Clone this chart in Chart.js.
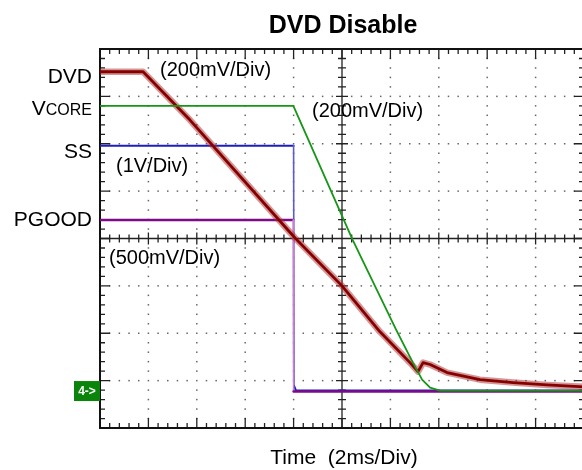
<!DOCTYPE html>
<html>
<head>
<meta charset="utf-8">
<script src="https://cdn.jsdelivr.net/npm/chart.js@4.4.1/dist/chart.umd.min.js"></script>
<style>
  html, body { margin: 0; padding: 0; background: #fff; overflow: hidden; }
  #wrap { position: relative; width: 590px; height: 470px; }
</style>
</head>
<body>
<div id="wrap"><canvas id="scope"></canvas></div>
<script>
// Time in ms (2 ms per division, 10 divisions), level in screen divisions (0..8)
const dvdTime   = [0, 1.78, 3.72, 8.06, 10.0, 11.57, 12.81, 13.14, 13.35, 13.64, 14.34, 15.70, 17.07, 18.47, 20];
const dvdLevel  = [7.52, 7.52, 6.50, 4.01, 3.00, 2.03, 1.38, 1.19, 1.38, 1.34, 1.17, 1.02, 0.96, 0.91, 0.87];
const vcoreTime  = [0, 7.99, 10.44, 12.23, 12.93, 13.31, 13.64, 14.05, 20];
const vcoreLevel = [6.80, 6.80, 3.97, 2.08, 1.38, 1.02, 0.85, 0.79, 0.79];
const ssTime  = [0, 8.0, 8.02, 8.1, 20];
const ssLevel = [5.96, 5.96, 0.89, 0.79, 0.79];
const pgoodTime  = [0, 7.98, 8.0, 20];
const pgoodLevel = [4.39, 4.39, 0.77, 0.77];
const ch4Ground = 0.78;

const xMajor = [0, 2, 4, 6, 8, 10, 12, 14, 16, 18, 20];
const yMajor = [0, 1, 2, 3, 4, 5, 6, 7, 8];

const pts = (xs, ys) => xs.map((x, i) => ({ x, y: ys[i] }));
const FONT = '"Liberation Sans", Arial, sans-serif';

// Oscilloscope graticule: dotted grid, centre cross and framed border with ticks
const graticule = {
  id: 'graticule',
  beforeDatasetsDraw(chart) {
    const { ctx, chartArea: a, scales: { x, y } } = chart;
    const xs = [], ys = [];
    for (let i = 0; i <= 50; i++) xs.push(x.getPixelForValue(i * 0.4));
    for (let j = 0; j <= 40; j++) ys.push(y.getPixelForValue(j * 0.2));
    ctx.save();
    ctx.fillStyle = '#666';
    // dotted vertical grid lines
    xMajor.forEach(v => {
      if (v === 0 || v === 20 || v === 10) return;
      const px = x.getPixelForValue(v);
      ys.forEach((py, j) => { if (j > 0 && j < 40 && j % 5 !== 0) ctx.fillRect(px - 0.75, py - 0.75, 1.5, 1.5); });
    });
    // dotted horizontal grid lines
    yMajor.forEach(v => {
      if (v === 0 || v === 8 || v === 4) return;
      const py = y.getPixelForValue(v);
      xs.forEach((px, i) => { if (i > 0 && i < 50) ctx.fillRect(px - 0.75, py - 0.75, 1.5, 1.5); });
    });
    // centre cross with minor ticks
    ctx.strokeStyle = '#222';
    ctx.lineWidth = 1.3;
    const cx = x.getPixelForValue(10), cy = y.getPixelForValue(4);
    ctx.beginPath();
    ctx.moveTo(a.left, cy); ctx.lineTo(a.right, cy);
    ctx.moveTo(cx, a.top); ctx.lineTo(cx, a.bottom);
    xs.forEach((px, i) => { const L = i % 5 === 0 ? 6 : 4; ctx.moveTo(px, cy - L); ctx.lineTo(px, cy + L); });
    ys.forEach((py, j) => { const L = j % 5 === 0 ? 6 : 4; ctx.moveTo(cx - L, py); ctx.lineTo(cx + L, py); });
    ctx.stroke();
    // border ticks
    ctx.beginPath();
    ctx.lineWidth = 1.3;
    xs.forEach((px, i) => {
      const L = i % 5 === 0 ? 10 : 5;
      ctx.moveTo(px, a.top); ctx.lineTo(px, a.top + L);
      ctx.moveTo(px, a.bottom); ctx.lineTo(px, a.bottom - L);
    });
    ys.forEach((py, j) => {
      const L = j % 5 === 0 ? 10 : 5;
      ctx.moveTo(a.left, py); ctx.lineTo(a.left + L, py);
      ctx.moveTo(a.right, py); ctx.lineTo(a.right - L, py);
    });
    ctx.stroke();
    ctx.lineWidth = 2;
    ctx.strokeStyle = '#111';
    ctx.strokeRect(a.left, a.top, a.right - a.left, a.bottom - a.top);
    ctx.restore();
  }
};

// Channel names, volts/div notes, title and time base
const annotations = {
  id: 'annotations',
  afterDraw(chart) {
    const { ctx, scales: { y } } = chart;
    ctx.save();
    ctx.fillStyle = '#000';
    ctx.textBaseline = 'alphabetic';
    ctx.font = 'bold 25px ' + FONT;
    ctx.textAlign = 'center';
    ctx.fillText('DVD Disable', 343, 33);
    ctx.font = '21px ' + FONT;
    ctx.fillText('Time  (2ms/Div)', 344, 464);
    ctx.textAlign = 'right';
    ctx.fillText('DVD', 92, 83);
    ctx.fillText('SS', 92, 158);
    ctx.fillText('PGOOD', 92, 226);
    ctx.font = '16px ' + FONT;
    ctx.fillText('CORE', 92, 115);
    const coreW = ctx.measureText('CORE').width;
    ctx.font = '21px ' + FONT;
    ctx.fillText('V', 92 - coreW, 115);
    ctx.textAlign = 'left';
    ctx.font = '20px ' + FONT;
    ctx.fillText('(200mV/Div)', 160, 76);
    ctx.fillText('(200mV/Div)', 312, 117);
    ctx.fillText('(1V/Div)', 116, 172);
    ctx.fillText('(500mV/Div)', 109, 264);
    // channel 4 ground marker
    const gy = y.getPixelForValue(ch4Ground);
    ctx.fillStyle = '#0a840a';
    ctx.fillRect(74, gy - 10, 26, 20);
    ctx.fillStyle = '#fff';
    ctx.font = 'bold 12px ' + FONT;
    ctx.textAlign = 'center';
    ctx.textBaseline = 'middle';
    ctx.fillText('4->', 87, gy + 0.5);
    ctx.restore();
  }
};

new Chart(document.getElementById('scope'), {
  type: 'line',
  data: {
    datasets: [
      { label: 'VCORE', data: pts(vcoreTime, vcoreLevel), borderColor: 'rgb(22,150,22)', borderWidth: 1.8, order: 1 },
      { label: 'DVD', data: pts(dvdTime, dvdLevel), borderColor: 'rgb(135,0,0)', borderWidth: 2.8, order: 2 },
      { label: 'DVD noise', data: pts(dvdTime, dvdLevel), borderColor: 'rgba(170,45,45,0.5)', borderWidth: 6.5, order: 3 },
      { label: 'PGOOD', data: pts(pgoodTime, pgoodLevel), borderColor: 'rgb(125,10,135)', borderWidth: 2.4, order: 4,
        segment: { borderColor: c => Math.abs(c.p0.parsed.y - c.p1.parsed.y) > 1 ? 'rgb(200,130,210)' : undefined, borderWidth: c => Math.abs(c.p0.parsed.y - c.p1.parsed.y) > 1 ? 1.6 : undefined } },
      { label: 'SS', data: pts(ssTime, ssLevel), borderColor: 'rgb(30,30,190)', borderWidth: 2, order: 5,
        segment: { borderColor: c => Math.abs(c.p0.parsed.y - c.p1.parsed.y) > 1 ? 'rgb(90,90,215)' : undefined, borderWidth: c => Math.abs(c.p0.parsed.y - c.p1.parsed.y) > 1 ? 1.6 : undefined } }
    ]
  },
  options: {
    responsive: true,
    maintainAspectRatio: false,
    animation: false,
    elements: { point: { radius: 0 }, line: { tension: 0, borderJoinStyle: 'round', borderCapStyle: 'round' } },
    layout: { padding: { left: 100, top: 49, right: 6, bottom: 42 } },
    plugins: { legend: { display: false }, tooltip: { enabled: false }, title: { display: false } },
    scales: {
      x: { type: 'linear', min: 0, max: 20, display: false },
      y: { type: 'linear', min: 0, max: 8, display: false }
    }
  },
  plugins: [graticule, annotations]
});
</script>
</body>
</html>
